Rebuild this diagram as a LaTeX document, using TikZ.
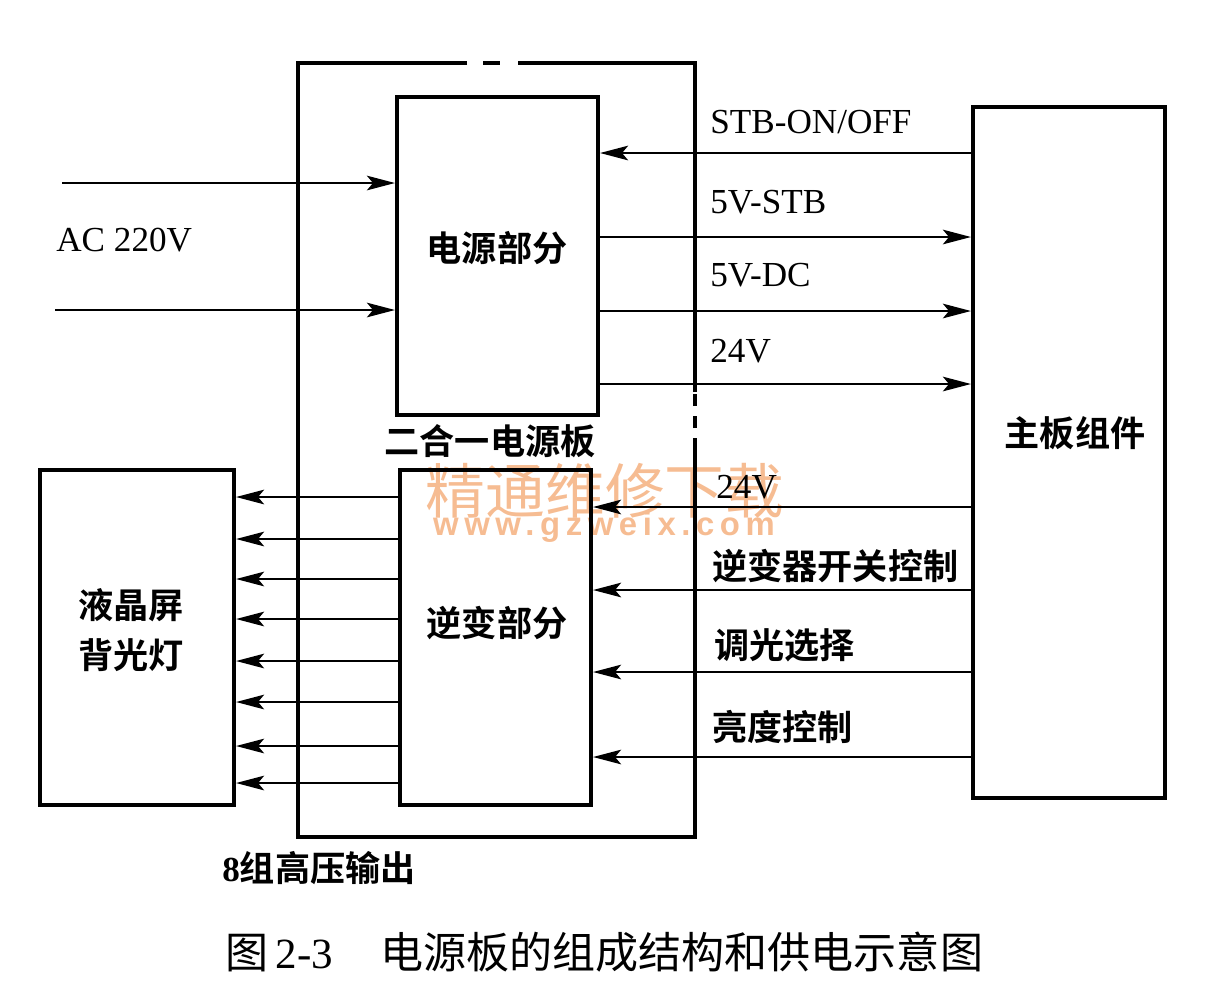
\documentclass[tikz,border=0pt]{standalone}
\usepackage{fontspec}
\setmainfont{Liberation Serif}
\newfontfamily\cjk{Noto Sans CJK SC}[BoldFont={Noto Sans CJK SC Bold}]
\newfontfamily\wmlatin{Liberation Sans}[LetterSpace=17]
\usepackage{tikz}
\usetikzlibrary{arrows.meta}
\definecolor{ink}{HTML}{000000}
\definecolor{mark}{HTML}{F6BC92}

\begin{document}
\begin{tikzpicture}[x=0.02cm, y=-0.02cm,
  font=\fontsize{20}{24}\selectfont,
  blk/.style={draw=ink, line width=2.3pt, inner sep=0pt, text=ink},
  frame/.style={inner sep=0pt, outer sep=0pt, minimum width=7.94cm, minimum height=15.48cm},
  edge/.style={draw=ink, line width=2.3pt},
  tag/.style={anchor=west, inner sep=0pt, text=ink},
  zh/.style={font=\fontsize{20}{28}\selectfont\cjk\bfseries, align=center},
  ar/.style={-{Stealth[length=5.6mm, width=2.9mm, inset=1.2mm]}, draw=ink, line width=1.6pt}
]
\useasboundingbox (0,0) rectangle (1206,1002);

% watermark
\node[text=mark, font=\fontsize{34}{36}\selectfont\cjk] (wmzh) at (605,491) {精通维修下载};
\node[text=mark, font=\fontsize{18.7}{20}\selectfont\wmlatin\bfseries] (wmen) at (604,527) {www.gzweix.com};

% blocks
\node[frame] (board) at (496.5,450) {};
\node[blk, minimum width=4.02cm, minimum height=6.36cm] (pwr) at (497.5,256) {};
\node[blk, minimum width=3.82cm, minimum height=6.7cm] (inv) at (495.5,637.5) {};
\node[blk, minimum width=3.84cm, minimum height=13.82cm] (main) at (1069,452.5) {};
\node[blk, minimum width=3.88cm, minimum height=6.7cm] (lcd) at (137,637.5) {};
\node[zh, inner sep=0pt] (pwrlbl)  at (497,248) {电源部分};
\node[zh, inner sep=0pt] (invlbl)  at (497,623) {逆变部分};
\node[zh, inner sep=0pt] (mainlbl) at (1075,433) {主板组件};
\node[zh, inner sep=0pt] (lcdlbl)  at (131,630) {液晶屏\\背光灯};

% outline of the two-in-one board
\draw[edge] (board.north -| 467,0) -- (board.north west) -- (board.south west)
  -- (board.south east) -- (board.east |- 0,450);
\draw[edge, dash pattern=on 0.24cm off 0.2cm] (board.east |- 0,450) -- (board.east |- 0,392);
\draw[edge] (board.east |- 0,392) -- (board.north east) -- (board.north -| 518,0);
\draw[edge] (board.north -| 483,0) -- (board.north -| 500,0);
\node[zh, inner sep=0pt] (boardlbl) at (490,441) {二合一电源板};

% mains input
\coordinate (ac1) at (62,183);
\coordinate (ac2) at (55,310);
\draw[ar] (ac1) -- (pwr.west |- ac1);
\draw[ar] (ac2) -- (pwr.west |- ac2);
\node[tag] (aclbl) at (56,240) {AC 220V};

% power part <-> main board
\draw[ar] (main.west |- 0,153) -- (pwr.east |- 0,153);
\draw[ar] (pwr.east |- 0,237) -- (main.west |- 0,237);
\draw[ar] (pwr.east |- 0,311) -- (main.west |- 0,311);
\draw[ar] (pwr.east |- 0,384) -- (main.west |- 0,384);
\node[tag] (stb)  at (710,122) {STB-ON/OFF};
\node[tag] (vstb) at (710,202) {5V-STB};
\node[tag] (vdc)  at (710,275) {5V-DC};
\node[tag] (v24a) at (710,351) {24V};

% main board -> inverter part
\draw[ar] (main.west |- 0,507) -- (inv.east |- 0,507);
\draw[ar] (main.west |- 0,590) -- (inv.east |- 0,590);
\draw[ar] (main.west |- 0,672) -- (inv.east |- 0,672);
\draw[ar] (main.west |- 0,757) -- (inv.east |- 0,757);
\node[tag] (v24b) at (716,487) {24V};
\node[tag, zh] (onoff) at (712,566) {逆变器开关控制};
\node[tag, zh] (dim)   at (714,645) {调光选择};
\node[tag, zh] (brt)   at (712,727) {亮度控制};

% 8 high-voltage outputs
\foreach \y in {497,539,579,619,661,702,746,783}
  \draw[ar] (inv.west |- 0,\y) -- (lcd.east |- 0,\y);
\node[tag] (hv) at (222,868) {\textbf{8}{\cjk\bfseries 组高压输出}};

% caption
\node[tag, font=\fontsize{24.5}{28}\selectfont] (cap) at (225,952)
  {{\cjk 图}\,2-3\hspace{0.95cm}{\cjk 电源板的组成结构和供电示意图}};
\end{tikzpicture}
\end{document}
